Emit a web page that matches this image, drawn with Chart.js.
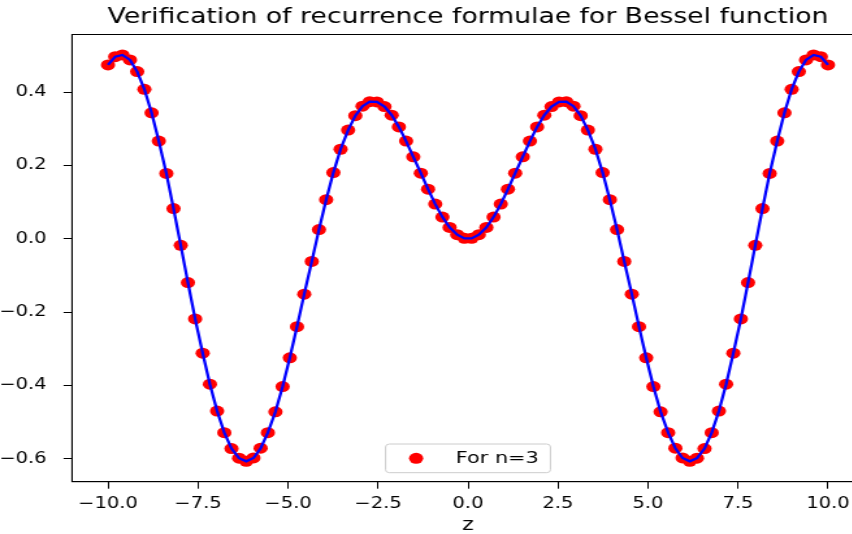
<!DOCTYPE html>
<html lang="en">
<head>
    <meta charset="UTF-8">
    <title>Verification of recurrence formulae for Bessel function</title>
    <style>
        html, body { margin: 0; padding: 0; background: #fff; overflow: hidden; }
        /* the reference image is stretched sideways, so stretch the canvas the same way */
        #wrap { width: 720px; height: 534px; transform: scale(1.3, 1); transform-origin: 0 0; }
    </style>
    <script src="https://cdn.jsdelivr.net/npm/chart.js"></script>
</head>
<body>
    <div id="wrap"><canvas id="bessel" width="720" height="534"></canvas></div>
    <script>
        const zValues = [
            -10.00, -9.80, -9.60, -9.39, -9.19, -8.99, -8.79, -8.59, -8.38, -8.18,
            -7.98, -7.78, -7.58, -7.37, -7.17, -6.97, -6.77, -6.57, -6.36, -6.16,
            -5.96, -5.76, -5.56, -5.35, -5.15, -4.95, -4.75, -4.55, -4.34, -4.14,
            -3.94, -3.74, -3.54, -3.33, -3.13, -2.93, -2.73, -2.53, -2.32, -2.12,
            -1.92, -1.72, -1.52, -1.31, -1.11, -0.91, -0.71, -0.51, -0.30, -0.10,
            0.10, 0.30, 0.51, 0.71, 0.91, 1.11, 1.31, 1.52, 1.72, 1.92,
            2.12, 2.32, 2.53, 2.73, 2.93, 3.13, 3.33, 3.54, 3.74, 3.94,
            4.14, 4.34, 4.55, 4.75, 4.95, 5.15, 5.35, 5.56, 5.76, 5.96,
            6.16, 6.36, 6.57, 6.77, 6.97, 7.17, 7.37, 7.58, 7.78, 7.98,
            8.18, 8.38, 8.59, 8.79, 8.99, 9.19, 9.39, 9.60, 9.80, 10.00
        ];
        const besselValues = [
            0.4742, 0.4966, 0.5012, 0.4876, 0.4560, 0.4075, 0.3436, 0.2665, 0.1784, 0.0825,
            -0.0178, -0.1192, -0.2183, -0.3118, -0.3963, -0.4694, -0.5283, -0.5716, -0.5979, -0.6065,
            -0.5973, -0.5707, -0.5283, -0.4715, -0.4027, -0.3243, -0.2393, -0.1508, -0.0615, 0.0252,
            0.1067, 0.1805, 0.2442, 0.2964, 0.3357, 0.3616, 0.3739, 0.3732, 0.3605, 0.3372,
            0.3051, 0.2665, 0.2236, 0.1791, 0.1353, 0.0947, 0.0593, 0.0311, 0.0114, 0.0013,
            0.0013, 0.0114, 0.0311, 0.0593, 0.0947, 0.1353, 0.1791, 0.2236, 0.2665, 0.3051,
            0.3372, 0.3605, 0.3732, 0.3739, 0.3616, 0.3357, 0.2964, 0.2442, 0.1805, 0.1067,
            0.0252, -0.0615, -0.1508, -0.2393, -0.3243, -0.4027, -0.4715, -0.5283, -0.5707, -0.5973,
            -0.6065, -0.5979, -0.5716, -0.5283, -0.4694, -0.3963, -0.3118, -0.2183, -0.1192, -0.0178,
            0.0825, 0.1784, 0.2665, 0.3436, 0.4075, 0.4560, 0.4876, 0.5012, 0.4966, 0.4742
        ];
        const xTicks = [-10, -7.5, -5, -2.5, 0, 2.5, 5, 7.5, 10];
        const yTicks = [-0.6, -0.4, -0.2, 0, 0.2, 0.4];

        const points = zValues.map((z, i) => ({ x: z, y: besselValues[i] }));

        // matplotlib style tick text, with a real minus sign
        function fmt(v) {
            return (v < 0 ? '\u2212' : '') + Math.abs(v).toFixed(1);
        }

        Chart.defaults.font.family = '"DejaVu Sans", sans-serif';
        Chart.defaults.color = '#000';

        // top and right spines
        const frame = {
            id: 'frame',
            afterDraw(chart) {
                const { ctx, chartArea: a } = chart;
                ctx.save();
                ctx.strokeStyle = '#000';
                ctx.lineWidth = 1;
                ctx.strokeRect(a.left, a.top, a.right - a.left, a.bottom - a.top);
                ctx.restore();
            }
        };

        // legend box inside the plot, lower centre
        const legendBox = {
            id: 'legendBox',
            afterDraw(chart) {
                const { ctx, chartArea: a } = chart;
                const ds = chart.data.datasets[0];
                ctx.save();
                ctx.font = '16px "DejaVu Sans"';
                const tw = ctx.measureText(ds.label).width;
                const w = 54 + tw + 9, h = 28.7;
                const x0 = (a.left + a.right) / 2 - w / 2;
                const y0 = a.bottom - 9 - h;
                ctx.beginPath();
                ctx.roundRect(x0, y0, w, h, 3);
                ctx.fillStyle = 'rgba(255,255,255,0.8)';
                ctx.fill();
                ctx.strokeStyle = '#cccccc';
                ctx.lineWidth = 1;
                ctx.stroke();
                ctx.beginPath();
                ctx.arc(x0 + 23.5, y0 + h / 2, ds.pointRadius, 0, Math.PI * 2);
                ctx.fillStyle = ds.pointBackgroundColor;
                ctx.fill();
                ctx.fillStyle = '#000';
                ctx.textBaseline = 'middle';
                ctx.fillText(ds.label, x0 + 54, y0 + h / 2);
                ctx.restore();
            }
        };

        const ctx = document.getElementById('bessel').getContext('2d');
        const chart = new Chart(ctx, {
            type: 'line',
            data: {
                datasets: [{
                    label: 'For n=3',
                    data: points,
                    showLine: false,
                    pointRadius: 5.5,
                    pointBackgroundColor: '#ff0000',
                    pointBorderColor: '#ff0000',
                    pointBorderWidth: 0,
                    order: 1
                },
                {
                    label: '',
                    data: points,
                    borderColor: '#0000ff',
                    borderWidth: 2.3,
                    pointRadius: 0,
                    tension: 0,
                    fill: false,
                    order: 0
                }]
            },
            options: {
                responsive: false,
                animation: false,
                layout: { padding: 0 },
                plugins: {
                    legend: { display: false },
                    tooltip: { enabled: false },
                    title: {
                        display: true,
                        text: 'Verification of recurrence formulae for Bessel function',
                        font: { size: 20.5, weight: 'normal' },
                        color: '#000',
                        padding: { top: 5.5, bottom: 4.4 }
                    }
                },
                scales: {
                    x: {
                        type: 'linear',
                        min: -11,
                        max: 11,
                        afterBuildTicks: s => { s.ticks = xTicks.map(v => ({ value: v })); },
                        afterFit: s => { s.height = 52.3; },
                        grid: { drawOnChartArea: false, tickLength: 7, tickColor: '#000', tickWidth: 1 },
                        border: { color: '#000', width: 1 },
                        ticks: { font: { size: 15 }, color: '#000', padding: 6, maxRotation: 0, autoSkip: false, callback: fmt },
                        title: { display: true, text: 'z', font: { size: 17 }, color: '#000', padding: { top: 0, bottom: -2 } }
                    },
                    y: {
                        min: -0.662,
                        max: 0.557,
                        afterBuildTicks: s => { s.ticks = yTicks.map(v => ({ value: v })); },
                        afterFit: s => { s.width = 55.4; },
                        grid: { drawOnChartArea: false, tickLength: 6.5, tickColor: '#000', tickWidth: 1 },
                        border: { color: '#000', width: 1 },
                        ticks: { font: { size: 15 }, color: '#000', padding: 13, callback: fmt }
                    },
                    // empty axis on the right, only to keep room so the title stays centred on the plot
                    yRight: {
                        position: 'right',
                        afterFit: s => { s.width = 55.4; },
                        ticks: { display: false },
                        grid: { display: false },
                        border: { display: false }
                    }
                }
            },
            plugins: [frame, legendBox]
        });
    </script>
</body>
</html>
